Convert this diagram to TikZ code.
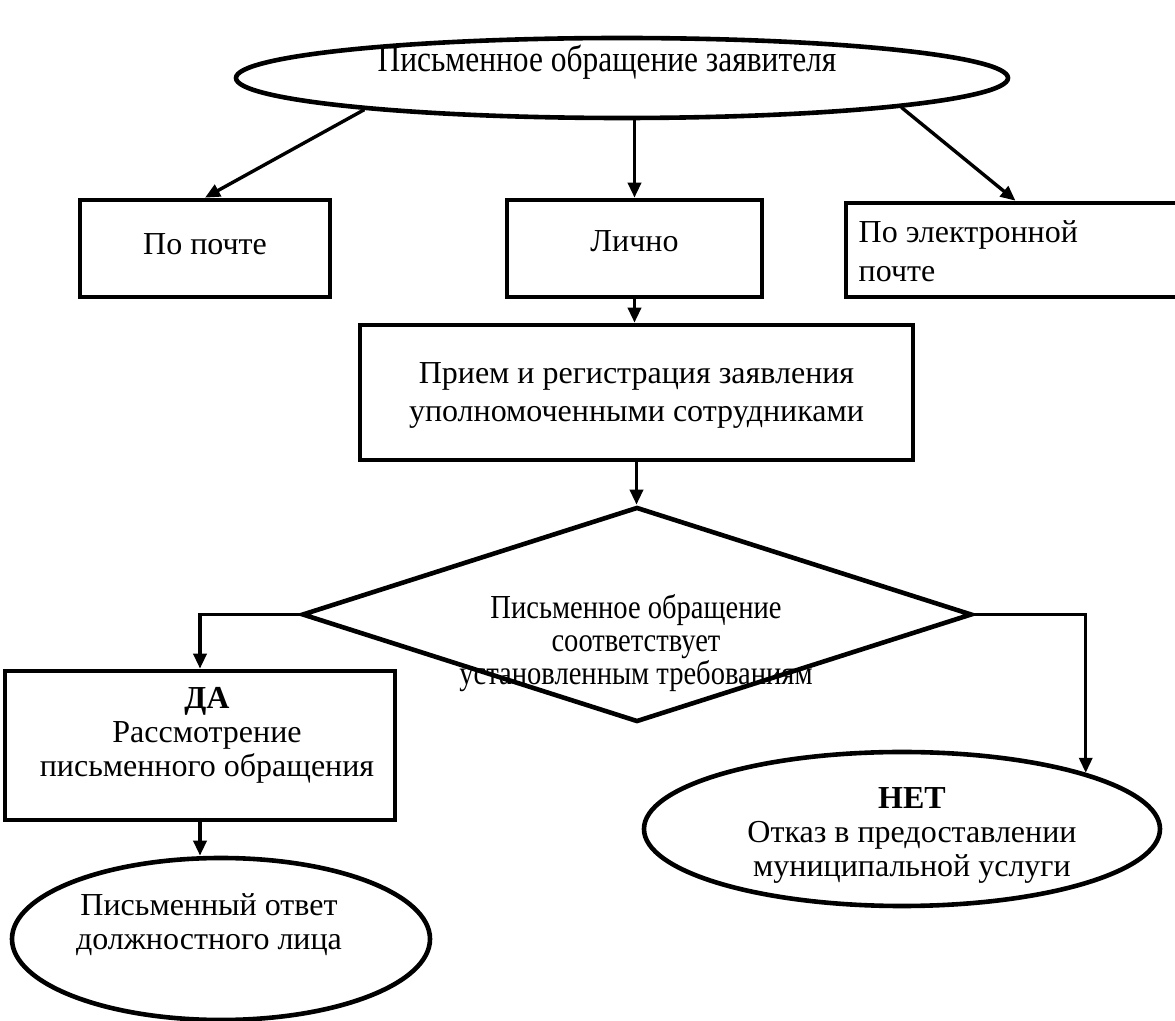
\documentclass[tikz,border=0pt]{standalone}
\usepackage{fontspec}
\setmainfont{Liberation Serif}
\newfontfamily\narrowfont[FakeStretch=0.85]{Liberation Serif}
\usetikzlibrary{arrows.meta,shapes.geometric}

\begin{document}
\begin{tikzpicture}
   [x=0.5pt,y=-0.5pt,line width=1.7pt,
    >={Triangle[length=7.5pt,width=6.5pt]},
    frame/.style={draw,line width=2.3pt,inner sep=0pt},
    oval/.style={frame,ellipse},
    lbl/.style={inner sep=0pt,align=center,font=\fontsize{16}{17}\selectfont},
    nlbl/.style={inner sep=0pt,align=center,font=\narrowfont\fontsize{16.8}{16.5}\selectfont}]
   \useasboundingbox (0,0) rectangle (1175,1021);

   \node[oval,minimum width=386pt,minimum height=40pt] (zayav) at (622,78) {};
   \node[nlbl,font=\narrowfont\fontsize{18.5}{18}\selectfont] (zayav-t) at (607,62) {Письменное обращение заявителя};

   \node[frame,minimum width=125pt,minimum height=48.5pt] (pochta) at (205,248.5) {};
   \node[lbl] (pochta-t) at (205,244) {По почте};
   \node[frame,minimum width=127.5pt,minimum height=48.5pt] (lichno) at (634.5,248.5) {};
   \node[lbl] (lichno-t) at (634.5,241) {Лично};
   \node[frame,minimum width=169.5pt,minimum height=47pt] (email) at (1015.5,250) {};
   \node[lbl,align=left,anchor=north west,font=\fontsize{16}{19.5}\selectfont] (email-t) at (857,219) {По электронной\\почте};

   \node[frame,minimum width=276.5pt,minimum height=67.5pt] (priem) at (636.5,392.5) {};
   \node[lbl,font=\fontsize{16}{19}\selectfont] (priem-t) at (636.5,395) {Прием и регистрация заявления\\уполномоченными сотрудниками};

   \node[frame,diamond,minimum width=335pt,minimum height=107.5pt] (romb) at (637,614.5) {};
   \node[nlbl] (romb-t) at (636,643) {Письменное обращение\\соответствует\\установленным требованиям};

   \node[frame,minimum width=195pt,minimum height=74.5pt] (da) at (200,745.5) {};
   \node[lbl] (da-t) at (207,735) {\textbf{ДА}\\Рассмотрение\\письменного обращения};

   \node[oval,minimum width=209pt,minimum height=81pt] (otvet) at (221,939) {};
   \node[lbl] (otvet-t) at (209,925) {Письменный ответ\\должностного лица};

   \node[oval,minimum width=258pt,minimum height=77pt] (net) at (902,829) {};
   \node[lbl] (net-t) at (912,835) {\textbf{НЕТ}\\Отказ в предоставлении\\муниципальной услуги};

   \draw[->] (zayav.187) -- (pochta.north);
   \draw[->] (zayav.south -| lichno.north) -- (lichno.north);
   \draw[->] (zayav.-6) -- (email.north);
   \draw[->] (lichno.south) -- (lichno.south |- priem.north);
   \draw[->] (priem.south) -- (priem.south |- romb.north);
   \draw[->] (romb.west) -| (da.north);
   \draw[->] (da.south) -- (da.south |- otvet.north);
   \draw[->] (romb.east) -| (net.17);
\end{tikzpicture}
\end{document}
